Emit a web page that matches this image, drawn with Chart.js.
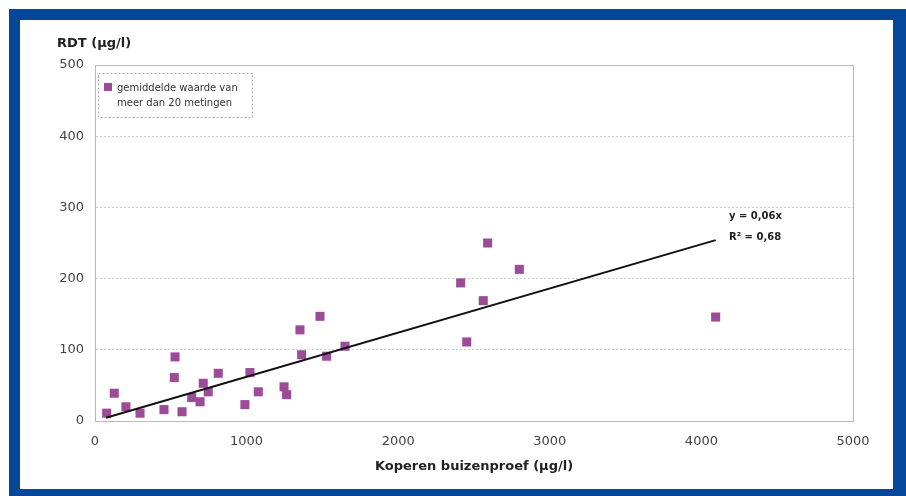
<!DOCTYPE html>
<html>
<head>
<meta charset="utf-8">
<script src="https://cdn.jsdelivr.net/npm/chart.js@4/dist/chart.umd.min.js"></script>
<style>
    html, body { margin: 0; padding: 0; background: #fff; }
    #frame {
        position: absolute; left: 9px; top: 9px; width: 873px; height: 469px;
        border-style: solid; border-color: #07479a;
        border-width: 11px 13px 7px 11px;
        background: #fff;
    }
    #wrap { position: absolute; left: 0; top: 0; width: 906px; height: 496px; }
</style>
</head>
<body>
<div id="frame"></div>
<div id="wrap"><canvas id="chart" width="906" height="496"></canvas></div>
<script>
// Koperen buizenproef (µg/l) vs RDT (µg/l)
const koperX = [77, 127, 204, 297, 455, 523, 528, 574, 638, 693, 714, 747, 813, 989, 1022, 1077,
                1247, 1264, 1352, 1363, 1484, 1528, 1649, 2412, 2452, 2561, 2590, 2799, 4094];
const rdtY = [11, 39, 20, 11, 16, 61, 90, 13, 33, 27, 53, 41, 67, 23, 68, 41,
              48, 37, 128, 93, 147, 91, 105, 194, 111, 169, 250, 213, 146];

// trendline end points as drawn
const trendX = [73, 4094];
const trendY = [4.5, 254];

const xTicks = [0, 1000, 2000, 3000, 4000, 5000];
const yTicks = [0, 100, 200, 300, 400, 500];

const legendLines = ["gemiddelde waarde van", "meer dan 20 metingen"];
const equationLines = ["y = 0,06x", "R² = 0,68"];

const purple = "#9b4b97";
const font = "'DejaVu Sans', Verdana, sans-serif";

const textPlugin = {
    id: "texts",
    afterDraw(chart) {
        const ctx = chart.ctx;
        const area = chart.chartArea;
        ctx.save();

        // plot border
        ctx.strokeStyle = "#b9b9b9";
        ctx.lineWidth = 1;
        ctx.strokeRect(area.left + 0.5, area.top + 0.5, area.right - area.left, area.bottom - area.top);

        ctx.fillStyle = "#222";
        ctx.textBaseline = "middle";
        ctx.font = "bold 13px " + font;
        ctx.textAlign = "left";
        ctx.fillText("RDT (µg/l)", 57, 44);

        ctx.font = "bold 13px " + font;
        ctx.textAlign = "center";
        ctx.fillText("Koperen buizenproef (µg/l)", (area.left + area.right) / 2, 467);

        // legend box
        ctx.setLineDash([2, 2]);
        ctx.strokeStyle = "#aaa";
        ctx.strokeRect(98.5, 73.5, 154, 44);
        ctx.setLineDash([]);
        ctx.fillStyle = purple;
        ctx.fillRect(104, 83, 8, 8);
        ctx.fillStyle = "#333";
        ctx.font = "10px " + font;
        ctx.textAlign = "left";
        ctx.fillText(legendLines[0], 117, 88);
        ctx.fillText(legendLines[1], 117, 103);

        // trendline equation
        ctx.font = "bold 10px " + font;
        ctx.fillStyle = "#222";
        ctx.fillText(equationLines[0], 729, 216);
        ctx.fillText(equationLines[1], 729, 237);
        ctx.restore();
    }
};

const ctx = document.getElementById("chart").getContext("2d");
new Chart(ctx, {
    type: "scatter",
    data: {
        datasets: [{
            label: "gemiddelde waarde van meer dan 20 metingen",
            data: koperX.map((x, i) => ({x: x, y: rdtY[i]})),
            pointStyle: "rect",
            pointRadius: 6.4,
            pointBackgroundColor: purple,
            pointBorderWidth: 0,
            order: 2
        }, {
            type: "line",
            label: "trend",
            data: trendX.map((x, i) => ({x: x, y: trendY[i]})),
            borderColor: "#111",
            borderWidth: 2,
            pointRadius: 0,
            fill: false,
            order: 1
        }]
    },
    options: {
        responsive: false,
        animation: false,
        layout: { padding: { left: 0, top: 65, right: 53, bottom: 0 } },
        plugins: { legend: { display: false }, tooltip: { enabled: false } },
        scales: {
            x: {
                type: "linear",
                min: xTicks[0], max: xTicks[xTicks.length - 1],
                afterBuildTicks: s => { s.ticks = xTicks.map(v => ({value: v})); },
                afterFit: s => { s.height = 75; },
                grid: { display: false, drawTicks: false },
                border: { color: "#b9b9b9" },
                ticks: { padding: 13, color: "#444", font: { family: font, size: 13 }, callback: v => String(v) }
            },
            y: {
                min: yTicks[0], max: yTicks[yTicks.length - 1],
                afterBuildTicks: s => { s.ticks = yTicks.map(v => ({value: v})); },
                afterFit: s => { s.width = 95; },
                grid: { color: "#cfcfcf", drawTicks: false },
                border: { color: "#b9b9b9", dash: [2, 2] },
                ticks: { padding: 11, color: "#444", font: { family: font, size: 13 }, callback: v => String(v) }
            }
        }
    },
    plugins: [textPlugin]
});
</script>
</body>
</html>
